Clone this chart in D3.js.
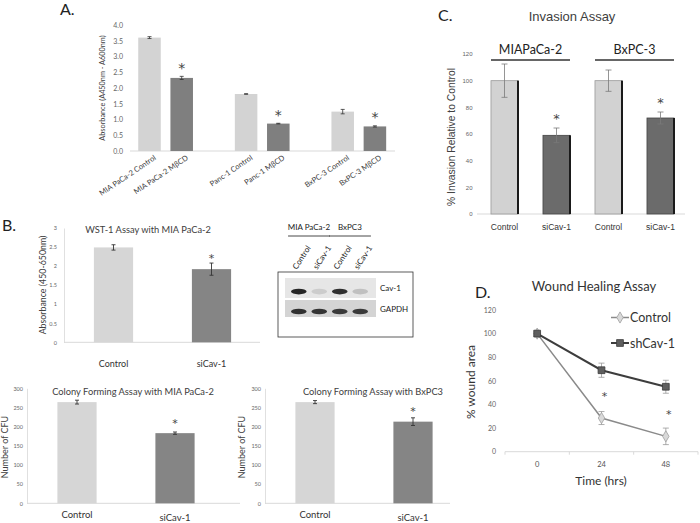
<!DOCTYPE html>
<html>
<head>
<meta charset="utf-8">
<script src="https://cdn.jsdelivr.net/npm/d3@7"></script>
<style>
  body { margin: 0; background: #fff; }
  svg { display: block; }
</style>
</head>
<body>
<svg width="700" height="523"></svg>
<script>
// ---- data ----
// A. MBCD absorbance
const mbcdCategories = ["MIA PaCa-2 Control", "MIA PaCa-2 MβCD", "Panc-1 Control", "Panc-1 MβCD", "BxPC-3 Control", "BxPC-3 MβCD"];
const mbcdValues = [3.60, 2.32, 1.81, 0.87, 1.25, 0.78];
const mbcdErrors = [0.03, 0.05, 0.01, 0.01, 0.07, 0.02];
const mbcdStars = [false, true, false, true, false, true];
const mbcdTicks = [0, 0.5, 1, 1.5, 2, 2.5, 3, 3.5, 4];

// B. knockdown assays
const knockdownCategories = ["Control", "siCav-1"];
const wstValues = [2.49, 1.92];
const wstErrors = [0.07, 0.16];
const wstTicks = [0, 0.5, 1, 1.5, 2, 2.5, 3];
const cfuMiaValues = [264, 183];
const cfuMiaErrors = [5, 3];
const cfuBxValues = [264, 213];
const cfuBxErrors = [4, 10];
const cfuTicks = [0, 50, 100, 150, 200, 250, 300];

// western blot
const blotGroups = ["MIA PaCa-2", "BxPC3"];
const blotLanes = ["Control", "siCav-1", "Control", "siCav-1"];
const cav1Intensity = [0.95, 0.12, 0.9, 0.18];
const gapdhIntensity = [0.9, 0.88, 0.85, 0.85];

// C. invasion
const invasionGroups = ["MIAPaCa-2", "BxPC-3"];
const invasionCategories = ["Control", "siCav-1", "Control", "siCav-1"];
const invasionValues = [100, 59, 100, 72];
const invasionErrors = [12.5, 5.5, 8, 4.5];
const invasionTicks = [0, 20, 40, 60, 80, 100, 120];

// D. wound healing
const woundTimes = ["0", "24", "48"];
const woundControl = [100, 28.5, 13];
const woundControlErr = [0, 5.5, 7];
const woundShCav = [100, 69, 55];
const woundShCavErr = [0, 6, 5.5];
const woundTicks = [0, 20, 40, 60, 80, 100, 120];

const svg = d3.select('svg');
const calibri = 'Lato, "Open Sans", sans-serif';
const arial = '"Liberation Sans", Arial, sans-serif';
const starFont = '"DejaVu Sans", sans-serif';

// generic excel-ish bar panel
function barPanel(o) {
  const g = svg.append('g');
  const nSlots = o.slots ? d3.max(o.slots) + 1 : o.values.length;
  const slotOf = i => (o.slots ? o.slots[i] : i);
  const x = d3.scaleBand()
    .domain(d3.range(nSlots))
    .range([o.c0 - o.step / 2, o.c0 + o.step * (nSlots - 0.5)])
    .paddingInner(o.pad).paddingOuter(o.pad / 2);
  const y = d3.scaleLinear().domain([0, o.yMax]).range([o.bottom, o.top]);

  const ya = g.append('g')
    .attr('transform', `translate(${o.axis[0]},0)`)
    .call(d3.axisLeft(y).tickValues(o.ticks).tickFormat(o.fmt).tickSize(0).tickPadding(o.tickPad));
  ya.select('.domain').attr('stroke', o.yLine ? '#e0e0e0' : 'none');
  ya.selectAll('text').attr('font-family', o.font).attr('font-size', o.tickSize).attr('fill', '#666');

  g.append('line')
    .attr('x1', o.axis[0]).attr('x2', o.axis[1])
    .attr('y1', y(0)).attr('y2', y(0))
    .attr('stroke', '#d9d9d9');

  const bars = g.selectAll('.bar').data(o.values).enter().append('g');
  bars.append('rect')
    .attr('x', (d, i) => x(slotOf(i)))
    .attr('width', x.bandwidth())
    .attr('y', d => y(d))
    .attr('height', d => y(0) - y(d))
    .attr('fill', (d, i) => o.fills[i])
    .attr('stroke', (d, i) => o.strokes ? o.strokes[i] : 'none')
    .attr('stroke-width', 0.8);
  if (o.shadow) {
    bars.append('line')
      .attr('x1', (d, i) => x(slotOf(i)) + x.bandwidth())
      .attr('x2', (d, i) => x(slotOf(i)) + x.bandwidth())
      .attr('y1', d => y(d)).attr('y2', y(0))
      .attr('stroke', '#1a1a1a').attr('stroke-width', 2);
  }

  // error bars
  const cx = i => x(slotOf(i)) + x.bandwidth() / 2;
  const eb = g.append('g').attr('stroke', o.errColor).attr('stroke-width', o.errWidth);
  o.values.forEach((v, i) => {
    const e = o.errors[i];
    eb.append('line').attr('x1', cx(i)).attr('x2', cx(i)).attr('y1', y(v - e)).attr('y2', y(v + e));
    [v - e, v + e].forEach(w => eb.append('line')
      .attr('x1', cx(i) - o.cap).attr('x2', cx(i) + o.cap).attr('y1', y(w)).attr('y2', y(w)));
  });

  // significance stars
  o.values.forEach((v, i) => {
    if (!o.stars[i]) return;
    g.append('text')
      .attr('x', cx(i))
      .attr('y', y(v + o.errors[i]) - o.starGap)
      .attr('text-anchor', 'middle')
      .attr('font-family', starFont).attr('font-size', o.starSize)
      .attr('fill', '#444')
      .text('*');
  });

  // category labels
  if (o.rotate) {
    g.selectAll('.cat').data(o.labels).enter().append('text')
      .attr('transform', (d, i) => `translate(${cx(i) + o.labelDx},${o.labelY}) rotate(${o.rotate})`)
      .attr('text-anchor', 'end')
      .attr('font-family', o.font).attr('font-size', o.labelSize).attr('fill', '#3a3a3a')
      .text(d => d);
  } else {
    g.selectAll('.cat').data(o.labels).enter().append('text')
      .attr('x', (d, i) => cx(i))
      .attr('y', (d, i) => o.labelY + (o.labelShift ? o.labelShift[i] : 0))
      .attr('text-anchor', 'middle')
      .attr('font-family', o.font).attr('font-size', o.labelSize).attr('fill', '#333')
      .text(d => d);
  }

  if (o.title) {
    g.append('text').attr('x', o.title.x).attr('y', o.title.y)
      .attr('text-anchor', 'middle').attr('font-family', o.font)
      .attr('font-size', o.title.size).attr('fill', '#404040')
      .text(o.title.text);
  }
  g.append('text')
    .attr('transform', `translate(${o.yLabel.x},${(o.yLabel.y)}) rotate(-90)`)
    .attr('text-anchor', 'middle').attr('font-family', o.font)
    .attr('font-size', o.yLabel.size).attr('fill', '#404040')
    .text(o.yLabel.text);
  return { g, x, y, cx };
}

function panelLetter(t, x, y) {
  svg.append('text').attr('x', x).attr('y', y)
    .attr('font-family', calibri).attr('font-size', 16).attr('fill', '#222')
    .text(t);
}

const light = '#d6d6d6', dark = '#858585';

// ---- A ----
panelLetter('A.', 60, 15);
barPanel({
  values: mbcdValues, errors: mbcdErrors, stars: mbcdStars, labels: mbcdCategories,
  slots: mbcdCategories.map((c, i) => i + Math.floor(i / 2)),
  c0: 149.5, step: 32.2, pad: 0.3, axis: [130, 395],
  top: 25, bottom: 151, yMax: 4, ticks: mbcdTicks, fmt: d3.format('.1f'), tickPad: 7, tickSize: 7,
  font: calibri, fills: mbcdValues.map((v, i) => i % 2 ? '#7f7f7f' : '#d3d3d3'),
  errColor: '#333', errWidth: 0.8, cap: 2, starGap: 3.5, starSize: 14,
  rotate: -34, labelDx: 7, labelY: 159, labelSize: 7.5,
  yLabel: { x: 105, y: 88, size: 7.3, text: 'Absorbance (A450nm - A600nm)' }
});

// ---- B: WST-1 ----
panelLetter('B.', 2, 231);
barPanel({
  values: wstValues, errors: wstErrors, stars: [false, true], labels: knockdownCategories,
  c0: 113.5, step: 98, pad: 0.6, axis: [64, 260], yLine: true,
  top: 228, bottom: 342.3, yMax: 3, ticks: wstTicks, fmt: d => d, tickPad: 7, tickSize: 5.5,
  font: calibri, fills: [light, dark], errColor: '#333', errWidth: 0.9, cap: 2,
  starGap: 1.5, starSize: 11, labelY: 367, labelSize: 9,
  title: { x: 148, y: 233, size: 9.3, text: 'WST-1 Assay with MIA PaCa-2' },
  yLabel: { x: 46, y: 285, size: 8.8, text: 'Absorbance (450-650nm)' }
});

// ---- B: colony forming ----
barPanel({
  values: cfuMiaValues, errors: cfuMiaErrors, stars: [false, true], labels: knockdownCategories,
  c0: 77, step: 98, pad: 0.6, axis: [27, 240], yLine: true,
  top: 388.3, bottom: 503.3, yMax: 300, ticks: cfuTicks, fmt: d => d, tickPad: 4, tickSize: 5.5,
  font: calibri, fills: [light, dark], errColor: '#333', errWidth: 0.9, cap: 2,
  starGap: 5, starSize: 11, labelY: 518, labelShift: [0, 3], labelSize: 9.5,
  title: { x: 133, y: 395, size: 9.3, text: 'Colony Forming Assay with MIA PaCa-2' },
  yLabel: { x: 8, y: 447, size: 9, text: 'Number of  CFU' }
});
barPanel({
  values: cfuBxValues, errors: cfuBxErrors, stars: [false, true], labels: knockdownCategories,
  c0: 315, step: 98, pad: 0.6, axis: [265, 450], yLine: true,
  top: 388.3, bottom: 503.3, yMax: 300, ticks: cfuTicks, fmt: d => d, tickPad: 4, tickSize: 5.5,
  font: calibri, fills: [light, dark], errColor: '#333', errWidth: 0.9, cap: 2,
  starGap: 3, starSize: 11, labelY: 518, labelShift: [0, 3], labelSize: 9.5,
  title: { x: 373, y: 395, size: 9.3, text: 'Colony Forming Assay with BxPC3' },
  yLabel: { x: 245, y: 447, size: 9, text: 'Number of CFU' }
});

// ---- western blot ----
{
  const g = svg.append('g');
  const lx = d3.scaleBand().domain(d3.range(blotLanes.length)).range([287, 372]).padding(0.15);
  const shade = d3.scaleLinear().domain([0, 1]).range(['#e4e4e4', '#1c1c1c']);
  // group headers
  blotGroups.forEach((name, gi) => {
    const a = lx(gi * 2), b = lx(gi * 2 + 1) + lx.bandwidth();
    g.append('text').attr('x', (a + b) / 2).attr('y', 230).attr('text-anchor', 'middle')
      .attr('font-family', calibri).attr('font-size', 8).attr('fill', '#222').text(name);
    g.append('line').attr('x1', a - 2).attr('x2', b + 2).attr('y1', 236).attr('y2', 236)
      .attr('stroke', '#333').attr('stroke-width', 0.9);
  });
  g.selectAll('.lane').data(blotLanes).enter().append('text')
    .attr('transform', (d, i) => `translate(${lx(i) + lx.bandwidth() / 2 - 2},270) rotate(-57)`)
    .attr('font-family', calibri).attr('font-size', 8).attr('fill', '#222').text(d => d);
  g.append('rect').attr('x', 278).attr('y', 272).attr('width', 135).attr('height', 65)
    .attr('fill', 'none').attr('stroke', '#333').attr('stroke-width', 0.8);
  const strips = [
    { name: 'Cav-1', vals: cav1Intensity, y: 278, h: 20, bg: '#e6e6e6' },
    { name: 'GAPDH', vals: gapdhIntensity, y: 300, h: 17, bg: '#d4d4d4' }
  ];
  strips.forEach(s => {
    g.append('rect').attr('x', 285).attr('y', s.y).attr('width', 91).attr('height', s.h).attr('fill', s.bg);
    g.selectAll(null).data(s.vals).enter().append('ellipse')
      .attr('cx', (d, i) => lx(i) + lx.bandwidth() / 2)
      .attr('cy', s.y + s.h * 0.68)
      .attr('rx', lx.bandwidth() * 0.45).attr('ry', 2.8)
      .attr('fill', d => shade(d));
    g.append('text').attr('x', 380).attr('y', s.y + s.h / 2 + 3)
      .attr('font-family', calibri).attr('font-size', 8).attr('fill', '#222').text(s.name);
  });
}

// ---- C: invasion ----
panelLetter('C.', 438, 21);
{
  const p = barPanel({
    values: invasionValues, errors: invasionErrors, stars: [false, true, false, true], labels: invasionCategories,
    c0: 504.5, step: 52, pad: 0.48, axis: [477, 685],
    top: 54, bottom: 214, yMax: 120, ticks: invasionTicks, fmt: d => d, tickPad: 4.5, tickSize: 6,
    font: arial, fills: ['#d2d2d2', '#6b6b6b', '#d2d2d2', '#6b6b6b'], strokes: ['#9a9a9a', '#444', '#9a9a9a', '#444'],
    shadow: true, errColor: '#7a7a7a', errWidth: 0.8, cap: 3,
    starGap: 5, starSize: 13, labelY: 230, labelSize: 8.5,
    title: { x: 572, y: 21, size: 13, text: 'Invasion Assay' },
    yLabel: { x: 455, y: 137, size: 10.3, text: '% Invasion Relative to Control' }
  });
  invasionGroups.forEach((name, gi) => {
    const a = p.x(gi * 2), b = p.x(gi * 2 + 1) + p.x.bandwidth();
    p.g.append('text').attr('x', (a + b) / 2).attr('y', 54).attr('text-anchor', 'middle')
      .attr('font-family', calibri).attr('font-size', 12.5).attr('fill', '#222').text(name);
    p.g.append('line').attr('x1', a).attr('x2', b).attr('y1', 60).attr('y2', 60)
      .attr('stroke', '#333').attr('stroke-width', 1.4);
  });
}

// ---- D: wound healing ----
panelLetter('D.', 475, 298);
{
  const g = svg.append('g');
  const x = d3.scaleBand().domain(woundTimes).range([505, 698]);
  const y = d3.scaleLinear().domain([0, 120]).range([451.7, 310]);
  const cx = t => x(t) + x.bandwidth() / 2;

  const ya = g.append('g').attr('transform', 'translate(505,0)')
    .call(d3.axisLeft(y).tickValues(woundTicks).tickSize(0).tickPadding(9));
  ya.select('.domain').remove();
  ya.selectAll('text').attr('font-family', calibri).attr('font-size', 7).attr('fill', '#666');

  g.append('line').attr('x1', 505).attr('x2', 698).attr('y1', y(0)).attr('y2', y(0)).attr('stroke', '#d9d9d9');
  g.selectAll('.tk').data(woundTimes.concat(['end'])).enter().append('line')
    .attr('x1', (d, i) => x.range()[0] + i * x.step()).attr('x2', (d, i) => x.range()[0] + i * x.step())
    .attr('y1', y(0)).attr('y2', y(0) + 3).attr('stroke', '#d9d9d9');
  g.selectAll('.xl').data(woundTimes).enter().append('text')
    .attr('x', d => cx(d)).attr('y', 466.5).attr('text-anchor', 'middle')
    .attr('font-family', calibri).attr('font-size', 7.5).attr('fill', '#555').text(d => d);

  const series = [
    { name: 'Control', vals: woundControl, errs: woundControlErr, line: '#8a8a8a', width: 1.5, marker: d3.symbolDiamond, size: 36, fill: '#d9d9d9', mstroke: '#a0a0a0' },
    { name: 'shCav-1', vals: woundShCav, errs: woundShCavErr, line: '#3d3d3d', width: 2, marker: d3.symbolSquare, size: 46, fill: '#5f5f5f', mstroke: '#3a3a3a' }
  ];
  series.forEach(s => {
    const eb = g.append('g').attr('stroke', '#999').attr('stroke-width', 0.8);
    s.vals.forEach((v, i) => {
      if (!s.errs[i]) return;
      const c = cx(woundTimes[i]);
      eb.append('line').attr('x1', c).attr('x2', c).attr('y1', y(v - s.errs[i])).attr('y2', y(v + s.errs[i]));
      [v - s.errs[i], v + s.errs[i]].forEach(w => eb.append('line')
        .attr('x1', c - 3).attr('x2', c + 3).attr('y1', y(w)).attr('y2', y(w)));
    });
  });
  series.forEach(s => {
    g.append('path')
      .attr('d', d3.line().x((d, i) => cx(woundTimes[i])).y(d => y(d))(s.vals))
      .attr('fill', 'none').attr('stroke', s.line).attr('stroke-width', s.width);
    g.selectAll(null).data(s.vals).enter().append('path')
      .attr('transform', (d, i) => `translate(${cx(woundTimes[i])},${y(d)})`)
      .attr('d', d3.symbol(s.marker, s.size))
      .attr('fill', s.fill).attr('stroke', s.mstroke).attr('stroke-width', 0.8);
  });
  // stars between series at 24 and 48 h
  [1, 2].forEach(i => {
    g.append('text')
      .attr('x', cx(woundTimes[i]) + 3)
      .attr('y', (y(woundControl[i]) + y(woundShCav[i])) / 2 + 6)
      .attr('text-anchor', 'middle').attr('font-family', starFont).attr('font-size', 11)
      .attr('fill', '#444').text('*');
  });
  // legend
  series.forEach((s, i) => {
    const ly = 317.5 + i * 25.5;
    g.append('line').attr('x1', 611).attr('x2', 629).attr('y1', ly).attr('y2', ly)
      .attr('stroke', s.line).attr('stroke-width', s.width);
    g.append('path').attr('transform', `translate(620,${ly})`).attr('d', d3.symbol(s.marker, s.size))
      .attr('fill', s.fill).attr('stroke', s.mstroke).attr('stroke-width', 0.8);
    g.append('text').attr('x', 630).attr('y', ly + 4.5)
      .attr('font-family', calibri).attr('font-size', 12.5).attr('fill', '#333').text(s.name);
  });

  g.append('text').attr('x', 594).attr('y', 291).attr('text-anchor', 'middle')
    .attr('font-family', calibri).attr('font-size', 13).attr('fill', '#333').text('Wound Healing Assay');
  g.append('text').attr('x', 601).attr('y', 485).attr('text-anchor', 'middle')
    .attr('font-family', calibri).attr('font-size', 12).attr('fill', '#333').text('Time (hrs)');
  g.append('text').attr('transform', 'translate(475,382) rotate(-90)').attr('text-anchor', 'middle')
    .attr('font-family', calibri).attr('font-size', 12).attr('fill', '#333').text('% wound area');
}
</script>
</body>
</html>
